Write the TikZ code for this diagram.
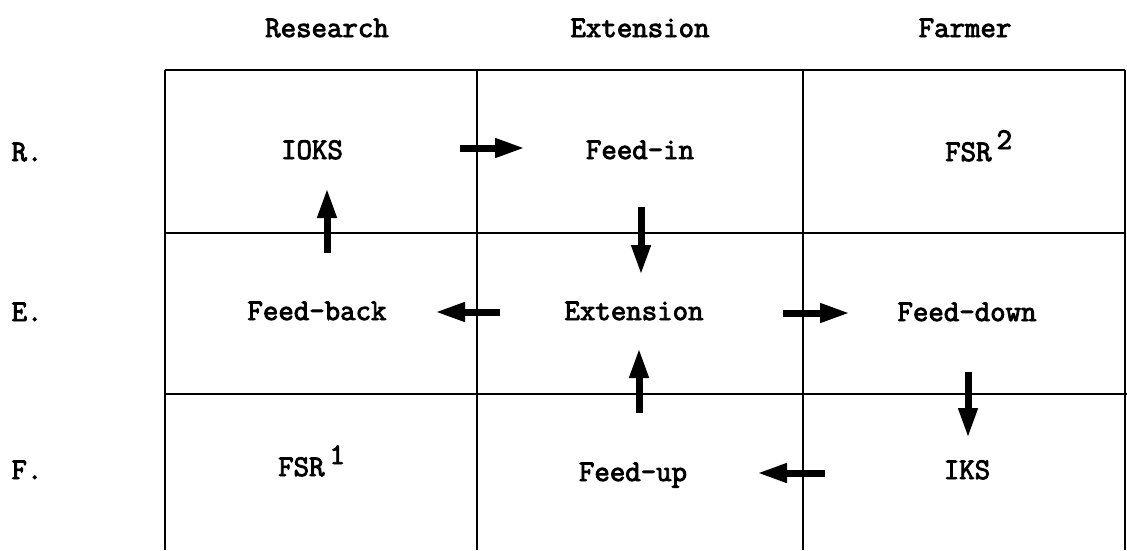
\documentclass[tikz,border=0pt]{standalone}
\usepackage{fontspec}
\setmonofont[FakeBold=3]{Latin Modern Mono}
\usetikzlibrary{arrows.meta}
\begin{document}
\begin{tikzpicture}[x=1pt,y=-1pt,
  grid/.style={line width=2.6pt,black},
  lbl/.style={font=\fontsize{30}{30}\selectfont\ttfamily,inner sep=0pt,text height=18pt,text depth=0pt,anchor=center},
  flow/.style={line width=7pt,-{Triangle[length=30pt,width=18pt]}}]
\useasboundingbox (0,0) rectangle (1127,550);
% grid
\draw[grid] (165,70) -- (1125,70);
\draw[grid] (165,233) -- (1125,233);
\draw[grid] (165,394) -- (1127,394);
\draw[grid] (165,70) -- (165,550);
\draw[grid] (477,70) -- (477,550);
\draw[grid] (803,70) -- (803,550);
\draw[line width=1.8pt] (1125,70) -- (1125,550);
% headers
\node[lbl] (hR) at (327,28) {Research};
\node[lbl] (hE) at (640,28) {Extension};
\node[lbl] (hF) at (965,28) {Farmer};
% row labels
\node[lbl] (rR) at (27,152) {R.};
\node[lbl] (rE) at (27,312) {E.};
\node[lbl] (rF) at (27,470) {F.};
% cells
\node[lbl] (ioks) at (312,150) {IOKS};
\node[lbl] (feedin) at (640,150) {Feed-in};
\node[lbl,anchor=west] (fsr2) at (945,152) {FSR\,\raisebox{12pt}{2}};
\node[lbl] (feedback) at (317,311) {Feed-back};
\node[lbl] (ext) at (634,311) {Extension};
\node[lbl] (feeddown) at (967,312) {Feed-down};
\node[lbl,anchor=west] (fsr1) at (278,467) {FSR\,\raisebox{12pt}{1}};
\node[lbl] (feedup) at (633,472) {Feed-up};
\node[lbl] (iks) at (967,470) {IKS};
% arrow ends
\coordinate (a1s) at (460,148); \coordinate (a1e) at (525,148);
\coordinate (a2s) at (327,253); \coordinate (a2e) at (327,188);
\coordinate (a3s) at (641,207); \coordinate (a3e) at (641,275);
\coordinate (a4s) at (500,312); \coordinate (a4e) at (435,312);
\coordinate (a5s) at (783,313); \coordinate (a5e) at (850,313);
\coordinate (a6s) at (639,413); \coordinate (a6e) at (639,348);
\coordinate (a7s) at (968,372); \coordinate (a7e) at (968,438);
\coordinate (a8s) at (825,473); \coordinate (a8e) at (757,473);
\draw[flow] (a1s) -- (a1e);
\draw[flow] (a2s) -- (a2e);
\draw[flow] (a3s) -- (a3e);
\draw[flow] (a4s) -- (a4e);
\draw[flow] (a5s) -- (a5e);
\draw[flow] (a6s) -- (a6e);
\draw[flow] (a7s) -- (a7e);
\draw[flow] (a8s) -- (a8e);
\end{tikzpicture}
\end{document}
